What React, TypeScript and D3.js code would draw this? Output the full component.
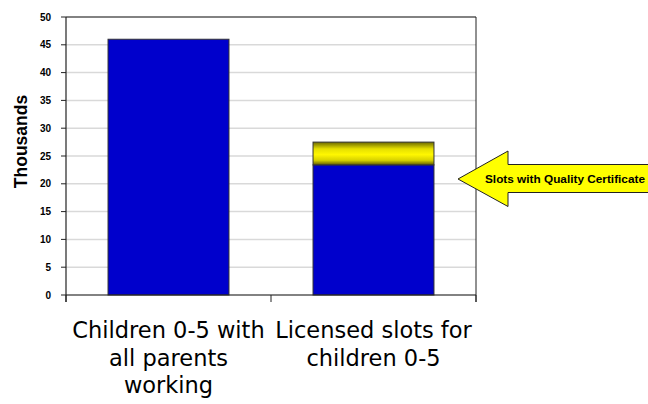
import React from "react";
import * as d3 from "d3";

const categories = ["Children 0-5 with all parents working", "Licensed slots for children 0-5"];
const categoryLines = [["Children 0-5 with", "all parents", "working"], ["Licensed slots for", "children 0-5"]];
const baseValues = [46.0, 23.4];
const certValues = [0, 4.1];
const yTicks = [0, 5, 10, 15, 20, 25, 30, 35, 40, 45, 50];
const yLabel = "Thousands";
const calloutText = "Slots with Quality Certificate";

export default function App() {
  const left = 66, right = 476, top = 17, bottom = 295;
  const y = d3.scaleLinear().domain([0, 50]).range([bottom, top]);
  const x = d3.scaleBand().domain(categories).range([left, right]).paddingInner(0.41).paddingOuter(0.205);
  const cx = (c: string) => (x(c) as number) + x.bandwidth() / 2;
  const tipY = 179;
  return (
    <svg width={648} height={404} style={{ display: "block", position: "absolute", left: 0, top: 0 }} fontFamily="Liberation Sans, Arial, sans-serif">
      <defs>
        <linearGradient id="cyl" x1="0" y1="0" x2="0" y2="1">
          <stop offset="0" stopColor="#6b6800" />
          <stop offset="0.3" stopColor="#e6e000" />
          <stop offset="0.55" stopColor="#fff700" />
          <stop offset="0.8" stopColor="#d6d000" />
          <stop offset="1" stopColor="#5e5a00" />
        </linearGradient>
      </defs>
      <rect x={0} y={0} width={648} height={404} fill="#fff" />
      {yTicks.map(t => (
        <line key={t} x1={left} x2={right} y1={y(t)} y2={y(t)} stroke="#d9d9d9" strokeWidth={1.5} />
      ))}
      <line x1={left} x2={right} y1={top} y2={top} stroke="#222" strokeWidth={1} />
      <line x1={right} x2={right} y1={top} y2={bottom + 7} stroke="#222" strokeWidth={1} />
      {categories.map((c, i) => (
        <g key={c}>
          <rect x={x(c)} y={y(baseValues[i])} width={x.bandwidth()} height={bottom - y(baseValues[i])} fill="#0000cc" stroke="#333" strokeWidth={1} />
          {certValues[i] > 0 && (
            <rect x={x(c)} y={y(baseValues[i] + certValues[i])} width={x.bandwidth()} height={y(baseValues[i]) - y(baseValues[i] + certValues[i])} fill="url(#cyl)" stroke="#333" strokeWidth={1} />
          )}
        </g>
      ))}
      <line x1={left} x2={left} y1={top} y2={bottom + 7} stroke="#222" strokeWidth={1.2} />
      {yTicks.map(t => (
        <g key={"t" + t}>
          <line x1={left - 5} x2={left} y1={y(t)} y2={y(t)} stroke="#222" />
          <text x={51} y={y(t) + 3.6} textAnchor="end" fontSize={10} fontWeight="bold" fill="#000">{t}</text>
        </g>
      ))}
      <line x1={left} x2={right} y1={bottom} y2={bottom} stroke="#222" strokeWidth={1.2} />
      {[left, (left + right) / 2, right].map((p, i) => (
        <line key={"ct" + i} x1={p} x2={p} y1={bottom} y2={bottom + 7} stroke="#222" />
      ))}
      <text transform={`translate(27,141.5) rotate(-90)`} textAnchor="middle" fontSize={17.5} fontWeight="bold" fill="#000">{yLabel}</text>
      {categories.map((c, i) => (
        <text key={"cl" + i} x={cx(c)} y={338} textAnchor="middle" fontSize={22.5} fontFamily="DejaVu Sans, Verdana, sans-serif" fill="#000">
          {categoryLines[i].map((ln, j) => (
            <tspan key={j} x={cx(c)} dy={j === 0 ? 0 : 27.5}>{ln}</tspan>
          ))}
        </text>
      ))}
      <path d={`M458,${tipY} L508,${tipY - 28} L508,${tipY - 14.5} L660,${tipY - 14.5} L660,${tipY + 13.5} L508,${tipY + 13.5} L508,${tipY + 27.5} Z`} fill="#ffff00" stroke="#222" strokeWidth={1} />
      <text x={485} y={tipY + 4.2} fontSize={11.8} fontWeight="bold" fill="#000">{calloutText}</text>
    </svg>
  );
}
